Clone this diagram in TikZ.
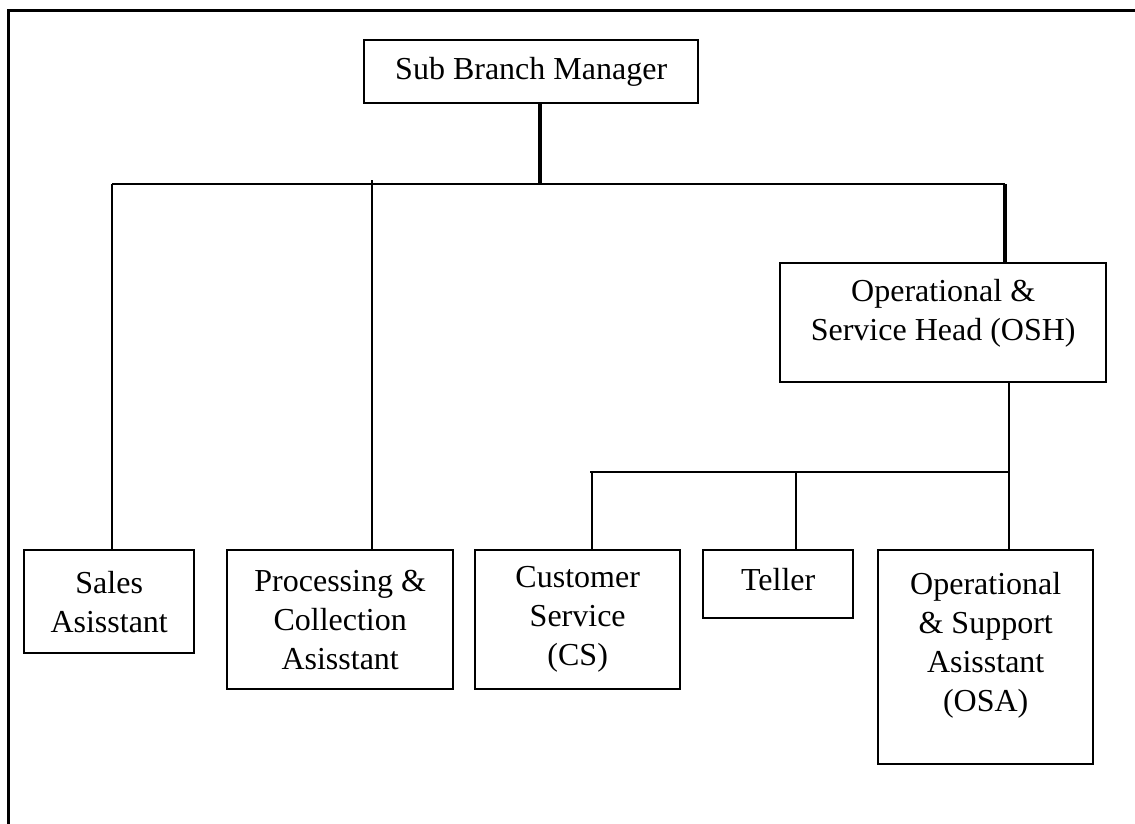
\documentclass[tikz,border=0pt]{standalone}
\usepackage{fontspec}
\setmainfont{Liberation Serif}

\begin{document}
\begin{tikzpicture}[x=0.5pt,y=-0.5pt,
  box/.style={draw,line width=1.2pt,anchor=north west,align=center,inner sep=2pt,
    font=\fontsize{16}{19.5}\selectfont},
  link/.style={line width=0.7pt},
  trunk/.style={line width=2pt}]
\useasboundingbox (0,0) rectangle (1135,824);
\draw[line width=1.5pt] (1140,11) -| (8,830);

% boxes
\node[box,minimum width=167pt,minimum height=31.5pt] (mgr) at (363,39) {Sub Branch Manager};
\node[box,minimum width=163pt,minimum height=59.5pt] (osh) at (779,262)
  {Operational \&\\Service Head (OSH)\rule[-13pt]{0pt}{13pt}};
\node[box,minimum width=85pt,minimum height=51.5pt] (sales) at (23,549) {Sales\\Asisstant};
\node[box,minimum width=113pt,minimum height=69.5pt] (proc) at (226,549)
  {Processing \&\\Collection\\Asisstant};
\node[box,minimum width=102.5pt,minimum height=69.5pt] (cs) at (474,549)
  {Customer\\Service\\(CS)};
\node[box,minimum width=75pt,minimum height=34pt] (teller) at (702,549)
  {Teller\rule[-4.5pt]{0pt}{4.5pt}};
\node[box,minimum width=107.5pt,minimum height=107pt] (osa) at (877,549)
  {Operational\\\& Support\\Asisstant\\(OSA)\rule[-15.5pt]{0pt}{15.5pt}};

% top level
\coordinate (busL) at (112,184);
\coordinate (busR) at (1005,184);
\coordinate (mgrX) at ([xshift=4.5pt]mgr.south);
\coordinate (procX) at (372,180);
\draw[link] (busL) -- (busR);
\draw[trunk] (mgrX) -- (mgrX |- busL);
\draw[trunk] (busR) -- (busR |- osh.north);
\draw[link] (busL) -- (busL |- sales.north);
\draw[link] (procX) -- (procX |- proc.north);

% under OSH
\coordinate (subL) at (590,472);
\coordinate (subR) at (1009,472);
\coordinate (csX) at (592,472);
\coordinate (telX) at (796,472);
\draw[link] (subL) -- (subR);
\draw[link] (osh.south -| subR) -- (osa.north -| subR);
\draw[link] (csX) -- (csX |- cs.north);
\draw[link] (telX) -- (telX |- teller.north);
\end{tikzpicture}
\end{document}
